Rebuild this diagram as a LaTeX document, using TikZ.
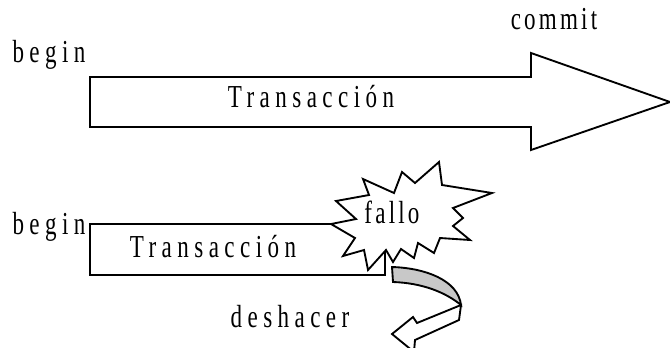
\documentclass[tikz,border=0pt]{standalone}
\usepackage{fontspec}
\setmainfont{Liberation Serif}[FakeStretch=0.72,LetterSpace=17]
\newfontfamily\burstfont{Liberation Serif}[FakeStretch=0.72,LetterSpace=10]
\usetikzlibrary{positioning}
\definecolor{shade}{HTML}{C8C8C8}

\tikzset{
  lbl/.style={anchor=base,inner sep=0pt,font=\fontsize{24}{28}\selectfont},
  outline/.style={line width=1.4pt,line join=miter,fill=white}
}

\begin{document}
\begin{tikzpicture}[x=0.75pt,y=-0.75pt]
  \useasboundingbox (0,0) rectangle (670,347);

  % successful transaction: long block arrow
  \draw[outline] (90,77) -- (531,77) -- (531,53) -- (670,102) -- (531,150)
    -- (531,127) -- (90,127) -- cycle;
  \node[lbl] (begA) at (49,62) {begin};
  \node[lbl] (transA) at (311,107) {Transacción};
  \node[lbl,font=\fontsize{24}{28}\burstfont] (commitA) at (554,29) {commit};

  % failed transaction: short bar broken by the burst
  \draw[outline] (90,224) rectangle (385,275);
  \draw[outline] (331,224) -- (356,219) -- (336,201) -- (369,195) -- (363,179)
    -- (394,193) -- (402,172) -- (415,183) -- (439,162) -- (442,185)
    -- (492,193) -- (453,208) -- (463,218) -- (453,226) -- (470,240)
    -- (440,238) -- (434,253) -- (418,243) -- (414,258) -- (401,249)
    -- (393,262) -- (386,250) -- (368,270) -- (364,250) -- (343,256)
    -- (355,238) -- cycle;
  \node[lbl] (begB) at (49,234) {begin};
  \node[lbl] (transB) at (213,257) {Transacción};
  \node[lbl,font=\fontsize{24}{28}\burstfont] (fallo) at (392,223) {fallo};

  % undo: curved arrow turning back
  \draw[outline,fill=shade] (392,267) .. controls (425,268) and (458,280) .. (461,305)
    .. controls (445,292) and (422,283) .. (393,282) -- cycle;
  \draw[outline] (461,305) -- (459,320) -- (415,340) -- (414,352) -- (392,334)
    -- (413,317) -- (417,323) -- cycle;
  \node[lbl] (deshacer) at (290,327) {deshacer};
\end{tikzpicture}
\end{document}
